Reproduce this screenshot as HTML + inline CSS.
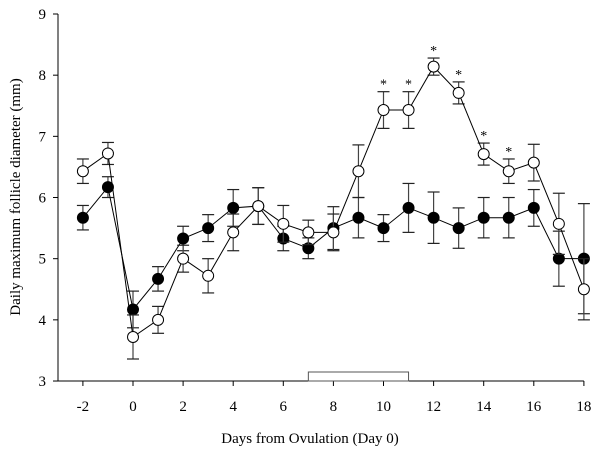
<!DOCTYPE html>
<html><head><meta charset="utf-8"><style>
body{margin:0;background:#fff}
svg text{font-family:"Liberation Serif",serif;fill:#000}
</style></head><body>
<svg id="chart" width="600" height="455" viewBox="0 0 600 455">
<g id="axes"></g><g id="marks"></g>
<text x="20" y="197" font-size="15" text-anchor="middle" transform="rotate(-90 20 197)">Daily maximum follicle diameter (mm)</text>
<text x="310" y="443" font-size="15" text-anchor="middle">Days from Ovulation (Day 0)</text>
</svg>
<script>
const days=[-2,-1,0,1,2,3,4,5,6,7,8,9,10,11,12,13,14,15,16,17,18];
const openVals=[6.43,6.72,3.72,4.0,5.0,4.72,5.43,5.86,5.57,5.43,5.43,6.43,7.43,7.43,8.14,7.71,6.71,6.43,6.57,5.57,4.5];
const openErr=[0.2,0.18,0.36,0.22,0.22,0.28,0.3,0.3,0.3,0.2,0.3,0.43,0.3,0.3,0.14,0.18,0.18,0.2,0.3,0.5,0.5];
const filledVals=[5.67,6.17,4.17,4.67,5.33,5.5,5.83,5.86,5.33,5.17,5.5,5.67,5.5,5.83,5.67,5.5,5.67,5.67,5.83,5.0,5.0];
const filledErr=[0.2,0.17,0.3,0.2,0.2,0.22,0.3,0.3,0.2,0.17,0.35,0.33,0.22,0.4,0.42,0.33,0.33,0.33,0.3,0.45,0.9];
const starDays=[10,11,12,13,14,15];
const yTicks=[3,4,5,6,7,8,9];
const xTicks=[-2,0,2,4,6,8,10,12,14,16,18];
const treatStart=7, treatEnd=11;
const NS="http://www.w3.org/2000/svg";
const X=d=>133+(d*25.05);
const Y=v=>14+(9-v)*61.17;
function mk(tag,attrs,parent){const e=document.createElementNS(NS,tag);for(const k in attrs)e.setAttribute(k,attrs[k]);parent.appendChild(e);return e;}
const ax=document.getElementById('axes'), mg=document.getElementById('marks');
let e;
e=mk('line',{x1:58,y1:14,x2:58,y2:381,stroke:'#000','stroke-width':1},ax);


e=mk('line',{x1:58,y1:381,x2:X(18),y2:381,stroke:'#000','stroke-width':1},ax);


yTicks.forEach(v=>{
  mk('line',{x1:53,y1:Y(v),x2:58,y2:Y(v),stroke:'#000'},ax);
  const t=mk('text',{x:46,y:Y(v)+5,'font-size':15,'text-anchor':'end'},ax);t.textContent=v;
  
  
});
xTicks.forEach(d=>{
  mk('line',{x1:X(d),y1:381,x2:X(d),y2:386,stroke:'#000'},ax);
  const t=mk('text',{x:X(d),y:411,'font-size':15,'text-anchor':'middle'},ax);t.textContent=d;
  
  
});
e=mk('rect',{x:X(treatStart),y:372,width:X(treatEnd)-X(treatStart),height:9,fill:'#fff',stroke:'#555','stroke-width':1},ax);


function series(vals,errs,fill,name){
  const g=mk('g',{},mg);
  
  
  days.forEach((d,i)=>{
    const x=X(d),top=Y(vals[i]+errs[i]),bot=Y(vals[i]-errs[i]);
    mk('line',{x1:x,y1:top,x2:x,y2:bot,stroke:'#444','stroke-width':1.2},g);
    mk('line',{x1:x-6,y1:top,x2:x+6,y2:top,stroke:'#222','stroke-width':1.2},g);
    mk('line',{x1:x-6,y1:bot,x2:x+6,y2:bot,stroke:'#222','stroke-width':1.2},g);
  });
  const l=mk('polyline',{points:days.map((d,i)=>X(d)+','+Y(vals[i])).join(' '),fill:'none',stroke:'#000','stroke-width':1},g);
  
  
  return g;
}
const gf=series(filledVals,filledErr,'#000','filled');
const go=series(openVals,openErr,'#fff','open');
days.forEach((d,i)=>{
  const c=mk('circle',{cx:X(d),cy:Y(filledVals[i]),r:5.5,fill:'#000',stroke:'#000'},gf);
  
  
});
days.forEach((d,i)=>{
  const c=mk('circle',{cx:X(d),cy:Y(openVals[i]),r:5.5,fill:'#fff',stroke:'#000','stroke-width':1}, go);
  
  
});
starDays.forEach(d=>{
  const i=days.indexOf(d);
  const t=mk('text',{x:X(d),y:Y(openVals[i]+openErr[i])-3,'font-size':14,'text-anchor':'middle'},mg);
  t.textContent='*';
  
  
});
</script>
</body></html>
